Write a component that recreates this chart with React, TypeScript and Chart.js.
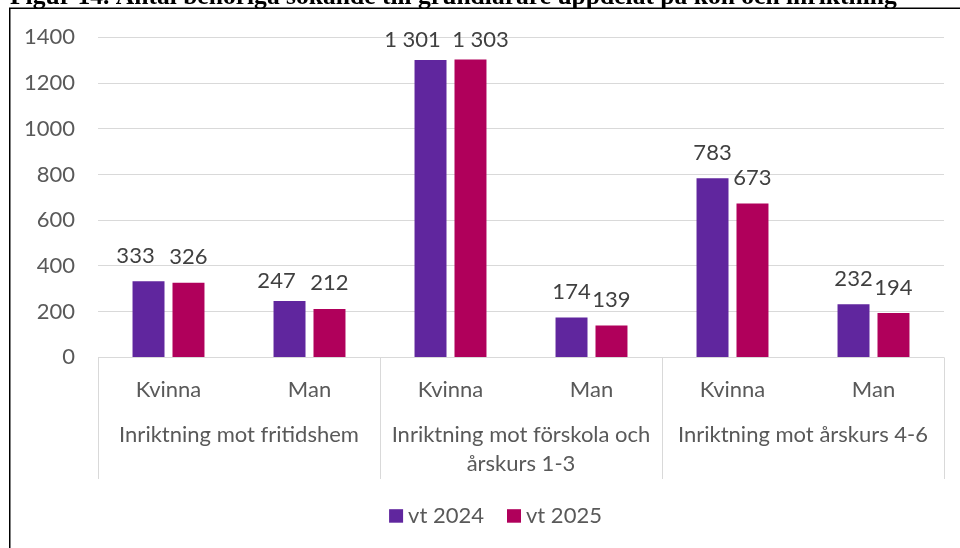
import React, { useEffect, useRef } from 'react';
import { Chart, registerables } from 'chart.js';

Chart.register(...registerables);

// ---- data ----
const TITLE = 'Figur 14. Antal behöriga sökande till grundlärare uppdelat på kön och inriktning';
const SUB_LABELS = ['Kvinna', 'Man', 'Kvinna', 'Man', 'Kvinna', 'Man'];
const GROUP_LABELS = [
  ['Inriktning mot fritidshem'],
  ['Inriktning mot förskola och', 'årskurs 1-3'],
  ['Inriktning mot årskurs 4-6'],
];
const SERIES_NAMES = ['vt 2024', 'vt 2025'];
const VT2024 = [333, 247, 1301, 174, 783, 232];
const VT2025 = [326, 212, 1303, 139, 673, 194];
const Y_MIN = 0;
const Y_MAX = 1400;
const Y_STEP = 200;

// ---- style ----
const COLORS = ['#60269E', '#B0005B'];
const FONT = 'Lato, "Open Sans", sans-serif';
const FONT_SIZE = 22;
const AXIS_TEXT = '#595959';
const LABEL_TEXT = '#404040';
const GRID = '#D9D9D9';
// manual label nudges [dx, dy] as in the source figure
const LABEL_NUDGE = [
  [[-13, 0], [-13, 6], [-18, 6], [0, 0], [0, 0], [0, 0]],
  [[0, 0], [0, 0], [10, 6], [0, 0], [0, 0], [0, 0]],
];

const fmt = (v: number) => String(v).replace(/\B(?=(\d{3})+(?!\d))/g, ' ');

const overlay = {
  id: 'overlay',
  afterDraw(chart: any) {
    const ctx = chart.ctx as CanvasRenderingContext2D;
    const xs = chart.scales.x;
    const ca = chart.chartArea;
    ctx.save();

    // title (cut off at top like the source)
    ctx.font = 'bold 20px "Liberation Serif", serif';
    const tw = ctx.measureText(TITLE).width;
    const tsize = (20 * 887) / tw;
    ctx.font = `bold ${tsize}px "Liberation Serif", serif`;
    ctx.fillStyle = '#000';
    ctx.textAlign = 'left';
    ctx.textBaseline = 'alphabetic';
    ctx.fillText(TITLE, 10, 3.5);

    // frame
    ctx.strokeStyle = '#000';
    ctx.lineWidth = 1.5;
    ctx.beginPath();
    ctx.moveTo(9.75, chart.height);
    ctx.lineTo(9.75, 8.25);
    ctx.lineTo(chart.width, 8.25);
    ctx.stroke();

    // category axis boxes
    const p0 = xs.getPixelForValue(0);
    const p1 = xs.getPixelForValue(1);
    const half = (p1 - p0) / 2;
    const axisBottom = 479;
    ctx.strokeStyle = GRID;
    ctx.lineWidth = 1;
    const bounds: number[] = [];
    for (let g = 0; g <= GROUP_LABELS.length; g++) {
      const idx = g * 2;
      const bx = g < GROUP_LABELS.length ? xs.getPixelForValue(idx) - half : xs.getPixelForValue(idx - 1) + half;
      bounds.push(bx);
      const ax = Math.round(bx) + 0.5;
      ctx.beginPath();
      ctx.moveTo(ax, ca.bottom);
      ctx.lineTo(ax, axisBottom);
      ctx.stroke();
    }

    ctx.font = `${FONT_SIZE}px ${FONT}`;
    ctx.fillStyle = AXIS_TEXT;
    ctx.textAlign = 'center';
    ctx.textBaseline = 'alphabetic';
    SUB_LABELS.forEach((lab, i) => {
      ctx.fillText(lab, xs.getPixelForValue(i), 396.5);
    });
    GROUP_LABELS.forEach((lines, g) => {
      const cx = (bounds[g] + bounds[g + 1]) / 2;
      lines.forEach((ln, k) => ctx.fillText(ln, cx, 441.5 + k * 29.5));
    });

    // data labels
    ctx.fillStyle = LABEL_TEXT;
    chart.data.datasets.forEach((ds: any, d: number) => {
      const meta = chart.getDatasetMeta(d);
      meta.data.forEach((bar: any, i: number) => {
        const [dx, dy] = LABEL_NUDGE[d][i];
        ctx.fillText(fmt(ds.data[i]), bar.x + dx, bar.y - 18.5 + dy);
      });
    });

    // legend
    const box = 14;
    const gapBoxText = 5;
    const itemGap = 23;
    ctx.textAlign = 'left';
    const widths = SERIES_NAMES.map((n) => ctx.measureText(n).width);
    const total = widths.reduce((a, w) => a + box + gapBoxText + w, 0) + itemGap * (SERIES_NAMES.length - 1);
    let lx = 495.5 - total / 2;
    const baseY = 522.7;
    SERIES_NAMES.forEach((n, i) => {
      ctx.fillStyle = COLORS[i];
      ctx.fillRect(lx, baseY - 13.5, box, 13.5);
      ctx.fillStyle = AXIS_TEXT;
      ctx.fillText(n, lx + box + gapBoxText, baseY);
      lx += box + gapBoxText + widths[i] + itemGap;
    });

    ctx.restore();
  },
};

export default function App() {
  const ref = useRef<HTMLCanvasElement>(null);
  useEffect(() => {
    if (!ref.current) return;
    const chart = new Chart(ref.current, {
      type: 'bar',
      data: {
        labels: SUB_LABELS,
        datasets: [
          { label: SERIES_NAMES[0], data: VT2024, backgroundColor: COLORS[0], borderWidth: 0, categoryPercentage: 0.567, barPercentage: 0.8 },
          { label: SERIES_NAMES[1], data: VT2025, backgroundColor: COLORS[1], borderWidth: 0, categoryPercentage: 0.567, barPercentage: 0.8 },
        ],
      },
      options: {
        responsive: false,
        animation: false,
        devicePixelRatio: 1,
        layout: { padding: { left: 0, right: 16, top: 37.3, bottom: 0 } },
        plugins: { legend: { display: false }, tooltip: { enabled: false }, title: { display: false } },
        scales: {
          x: {
            grid: { display: false, drawTicks: false },
            border: { display: false },
            ticks: { display: false },
            afterFit: (s: any) => { s.height = 548 - 357.4; },
          },
          y: {
            min: Y_MIN,
            max: Y_MAX,
            ticks: {
              stepSize: Y_STEP,
              color: AXIS_TEXT,
              padding: 23,
              font: { family: FONT, size: FONT_SIZE },
              callback: (v: any) => String(v),
            },
            grid: { color: GRID, drawTicks: false, lineWidth: 1 },
            border: { display: false },
            afterFit: (s: any) => { s.width = 98; },
          },
        },
      },
      plugins: [overlay],
    });
    return () => chart.destroy();
  }, []);
  return (
    <div style={{ position: 'absolute', left: 0, top: 0, width: 960, height: 548, background: '#fff' }}>
      <canvas ref={ref} width={960} height={548} style={{ display: 'block' }} />
    </div>
  );
}
